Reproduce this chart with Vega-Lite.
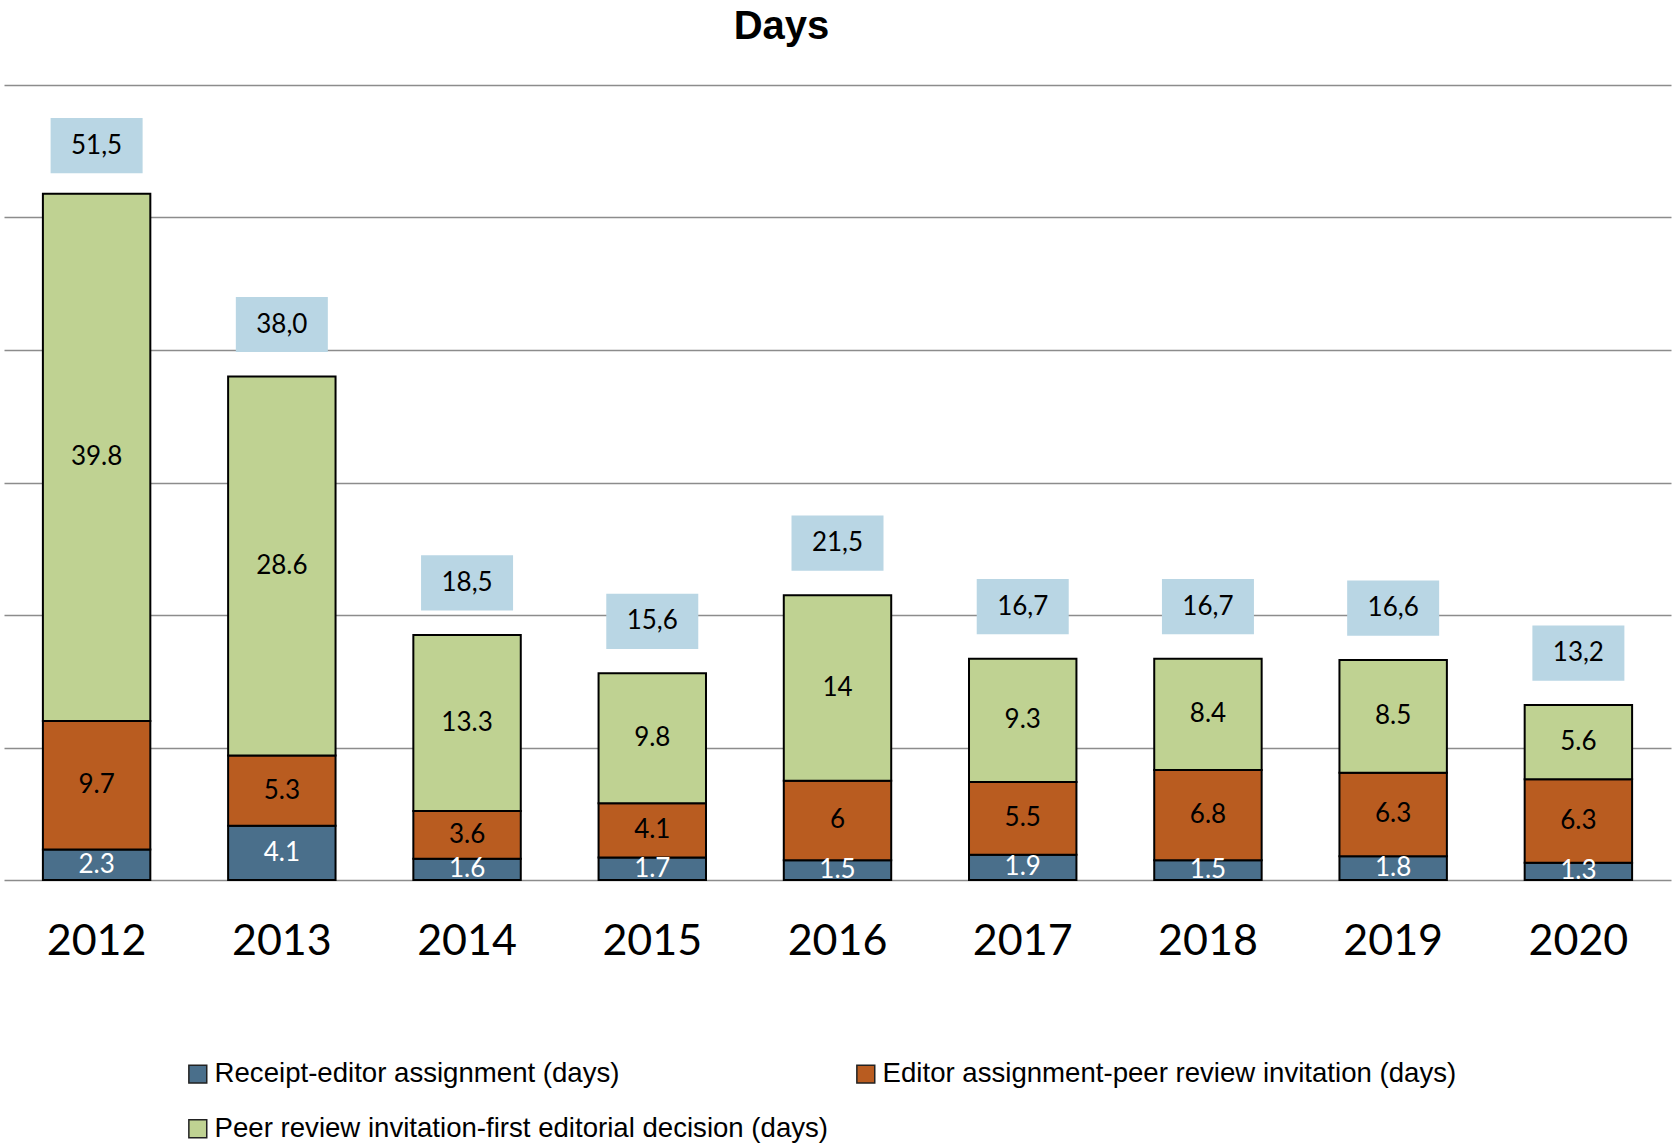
{
  "$schema": "https://vega.github.io/schema/vega-lite/v6.json",
  "width": 1667,
  "height": 795,
  "autosize": "none",
  "padding": {"left": 4, "top": 85, "right": 4, "bottom": 268},
  "background": "white",
  "title": {
    "text": "Days",
    "font": "Liberation Sans",
    "fontSize": 40,
    "fontWeight": "bold",
    "color": "black",
    "anchor": "middle",
    "dx": -56,
    "baseline": "alphabetic",
    "offset": 6
  },
  "config": {
    "view": {"stroke": null}
  },
  "datasets": {
    "segments": [
      {"year": "2012", "segment": "Receipt-editor assignment (days)", "k": 1, "value": 2.3},
      {"year": "2012", "segment": "Editor assignment-peer review invitation (days)", "k": 2, "value": 9.7},
      {"year": "2012", "segment": "Peer review invitation-first editorial decision (days)", "k": 3, "value": 39.8},
      {"year": "2013", "segment": "Receipt-editor assignment (days)", "k": 1, "value": 4.1},
      {"year": "2013", "segment": "Editor assignment-peer review invitation (days)", "k": 2, "value": 5.3},
      {"year": "2013", "segment": "Peer review invitation-first editorial decision (days)", "k": 3, "value": 28.6},
      {"year": "2014", "segment": "Receipt-editor assignment (days)", "k": 1, "value": 1.6},
      {"year": "2014", "segment": "Editor assignment-peer review invitation (days)", "k": 2, "value": 3.6},
      {"year": "2014", "segment": "Peer review invitation-first editorial decision (days)", "k": 3, "value": 13.3},
      {"year": "2015", "segment": "Receipt-editor assignment (days)", "k": 1, "value": 1.7},
      {"year": "2015", "segment": "Editor assignment-peer review invitation (days)", "k": 2, "value": 4.1},
      {"year": "2015", "segment": "Peer review invitation-first editorial decision (days)", "k": 3, "value": 9.8},
      {"year": "2016", "segment": "Receipt-editor assignment (days)", "k": 1, "value": 1.5},
      {"year": "2016", "segment": "Editor assignment-peer review invitation (days)", "k": 2, "value": 6},
      {"year": "2016", "segment": "Peer review invitation-first editorial decision (days)", "k": 3, "value": 14},
      {"year": "2017", "segment": "Receipt-editor assignment (days)", "k": 1, "value": 1.9},
      {"year": "2017", "segment": "Editor assignment-peer review invitation (days)", "k": 2, "value": 5.5},
      {"year": "2017", "segment": "Peer review invitation-first editorial decision (days)", "k": 3, "value": 9.3},
      {"year": "2018", "segment": "Receipt-editor assignment (days)", "k": 1, "value": 1.5},
      {"year": "2018", "segment": "Editor assignment-peer review invitation (days)", "k": 2, "value": 6.8},
      {"year": "2018", "segment": "Peer review invitation-first editorial decision (days)", "k": 3, "value": 8.4},
      {"year": "2019", "segment": "Receipt-editor assignment (days)", "k": 1, "value": 1.8},
      {"year": "2019", "segment": "Editor assignment-peer review invitation (days)", "k": 2, "value": 6.3},
      {"year": "2019", "segment": "Peer review invitation-first editorial decision (days)", "k": 3, "value": 8.5},
      {"year": "2020", "segment": "Receipt-editor assignment (days)", "k": 1, "value": 1.3},
      {"year": "2020", "segment": "Editor assignment-peer review invitation (days)", "k": 2, "value": 6.3},
      {"year": "2020", "segment": "Peer review invitation-first editorial decision (days)", "k": 3, "value": 5.6}
    ],
    "totals": [
      {"year": "2012", "total": 51.5, "label": "51,5"},
      {"year": "2013", "total": 38.0, "label": "38,0"},
      {"year": "2014", "total": 18.5, "label": "18,5"},
      {"year": "2015", "total": 15.6, "label": "15,6"},
      {"year": "2016", "total": 21.5, "label": "21,5"},
      {"year": "2017", "total": 16.7, "label": "16,7"},
      {"year": "2018", "total": 16.7, "label": "16,7"},
      {"year": "2019", "total": 16.6, "label": "16,6"},
      {"year": "2020", "total": 13.2, "label": "13,2"}
    ]
  },
  "encoding": {
    "x": {
      "field": "year",
      "type": "nominal",
      "sort": "ascending",
      "scale": {"paddingInner": 0.42, "paddingOuter": 0.21},
      "axis": {
        "title": null,
        "labelAngle": 0,
        "labelFont": "Lato",
        "labelFontSize": 43,
        "labelColor": "black",
        "labelPadding": 40,
        "ticks": false,
        "tickSize": 0,
        "domain": false,
        "grid": false
      }
    }
  },
  "layer": [
    {
      "data": {"name": "segments"},
      "mark": {"type": "bar", "stroke": "black", "strokeWidth": 2, "opacity": 1},
      "encoding": {
        "y": {
          "field": "value",
          "type": "quantitative",
          "stack": "zero",
          "scale": {"domain": [0, 60], "nice": false},
          "axis": {
            "title": null,
            "values": [0, 10, 20, 30, 40, 50, 60],
            "labels": false,
            "ticks": false,
            "domain": false,
            "grid": true,
            "gridColor": "#8c8c8c",
            "gridWidth": 1.5,
            "gridOpacity": 1
          }
        },
        "color": {
          "field": "segment",
          "type": "nominal",
          "scale": {
            "domain": [
              "Receipt-editor assignment (days)",
              "Editor assignment-peer review invitation (days)",
              "Peer review invitation-first editorial decision (days)"
            ],
            "range": ["#4a6f8b", "#b95c20", "#bfd292"]
          },
          "legend": {
            "title": null,
            "orient": "none",
            "legendX": 180,
            "legendY": 975,
            "direction": "horizontal",
            "columns": 2,
            "columnPadding": 23,
            "rowPadding": 26,
            "symbolType": "square",
            "symbolSize": 320,
            "symbolStrokeColor": "#222222",
            "symbolStrokeWidth": 1.5,
            "symbolOpacity": 1,
            "labelFont": "Liberation Sans",
            "labelFontSize": 27.6,
            "labelColor": "black",
            "labelOffset": 3,
            "labelLimit": 800
          }
        },
        "order": {"field": "k", "type": "quantitative"}
      }
    },
    {
      "data": {"name": "segments"},
      "mark": {"type": "text", "font": "Lato", "fontSize": 26, "baseline": "middle", "align": "center"},
      "encoding": {
        "y": {"field": "value", "type": "quantitative", "stack": "zero", "bandPosition": 0.5},
        "text": {"field": "value", "type": "quantitative"},
        "color": {
          "condition": {"test": "datum.segment === 'Receipt-editor assignment (days)'", "value": "white"},
          "value": "black"
        },
        "order": {"field": "k", "type": "quantitative"},
        "detail": {"field": "segment"}
      }
    },
    {
      "data": {"name": "totals"},
      "mark": {
        "type": "point",
        "shape": "M-1,-0.6L1,-0.6L1,0.6L-1,0.6Z",
        "size": 8464,
        "filled": true,
        "fill": "#b9d6e4",
        "opacity": 1,
        "strokeWidth": 0,
        "yOffset": -52
      },
      "encoding": {
        "y": {"field": "total", "type": "quantitative"}
      }
    },
    {
      "data": {"name": "totals"},
      "mark": {"type": "text", "font": "Lato", "fontSize": 26, "color": "black", "baseline": "middle", "align": "center", "yOffset": -52},
      "encoding": {
        "y": {"field": "total", "type": "quantitative"},
        "text": {"field": "label", "type": "nominal"}
      }
    }
  ]
}
